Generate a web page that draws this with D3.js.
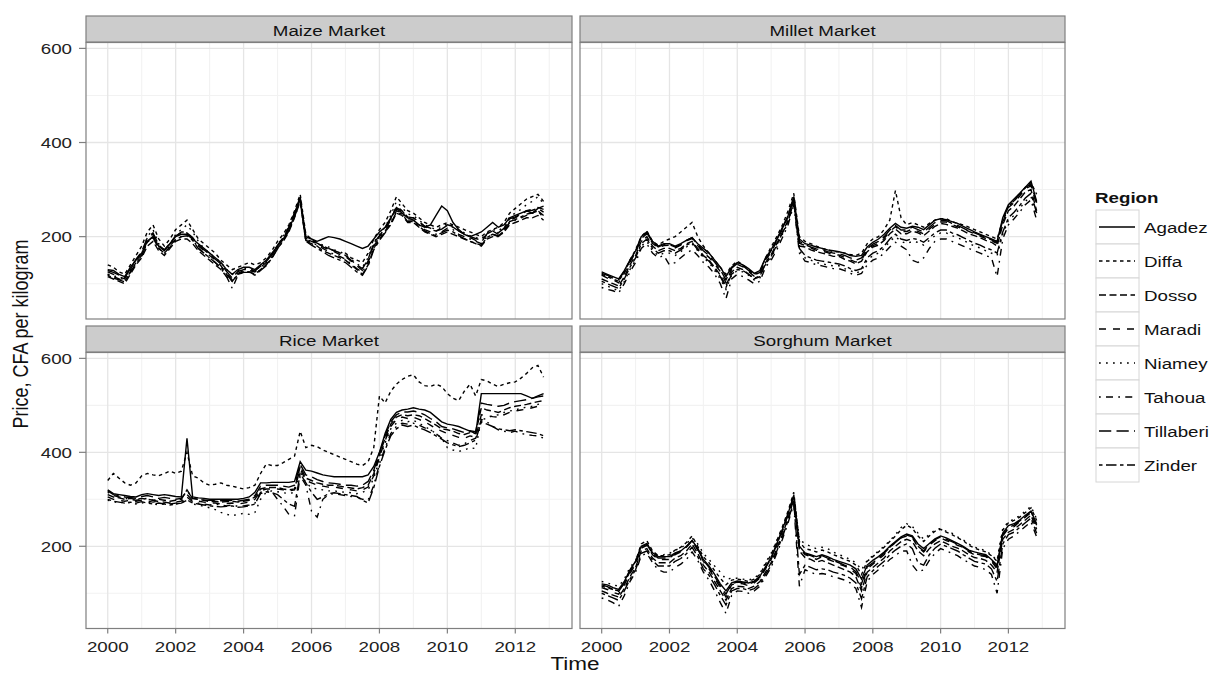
<!DOCTYPE html>
<html>
<head>
<meta charset="utf-8">
<script src="https://cdn.jsdelivr.net/npm/d3@7"></script>
<style>
  body { margin: 0; background: #fff; }
  text { font-family: "Liberation Sans", Arial, sans-serif; }
</style>
</head>
<body>
<svg class="chart" width="1217" height="673"></svg>
<script>
// Precios bimestrales (ene, mar, may, jul, sep, nov) 2000-2012, CFA por kg
var regions = ["Agadez", "Diffa", "Dosso", "Maradi", "Niamey", "Tahoua", "Tillaberi", "Zinder"];
var markets = ["Maize Market", "Millet Market", "Rice Market", "Sorghum Market"];
var startYear = 2000;
var perYear = 6;
var xTicks = [2000, 2002, 2004, 2006, 2008, 2010, 2012];
var yTicks = [200, 400, 600];

var maizePrices = [
  [130,128,120,115,135,150, 165,190,200,180,170,185, 200,205,205,195,185,175, 165,155,145,130,120,130, 135,135,130,140,150,165, 180,195,215,245,280,200, 195,190,195,200,198,195, 190,185,180,175,180,195, 210,220,240,260,250,240, 235,225,220,225,245,265, 255,230,215,205,200,205, 210,220,230,220,225,240, 245,250,255,250,260,265],
  [140,135,125,120,140,160, 180,210,225,195,180,195, 215,225,235,215,195,185, 175,165,150,140,130,135, 140,145,140,145,155,170, 190,205,225,255,290,205, 195,185,180,175,170,165, 165,155,150,145,165,195, 215,230,255,285,270,255, 250,240,230,225,220,225, 230,225,220,215,210,205, 200,210,215,220,230,250, 260,270,280,285,290,275],
  [115,110,105,100,120,140, 155,180,190,170,160,175, 190,195,195,185,170,160, 150,140,130,115,105,120, 125,125,120,130,140,155, 175,190,210,240,275,190, 185,180,170,165,160,155, 150,140,130,120,140,175, 195,210,225,250,245,230, 230,220,210,205,200,205, 210,205,200,195,190,185, 180,195,200,200,210,225, 230,235,240,240,245,235],
  [125,120,115,110,130,150, 165,195,205,180,172,185, 200,210,210,195,180,170, 160,150,138,122,108,122, 128,128,125,135,145,160, 180,198,220,250,285,195, 190,185,178,172,168,162, 158,148,138,128,148,182, 200,215,235,265,255,240, 240,230,222,215,212,218, 225,222,212,205,198,192, 188,205,212,205,215,235, 240,248,255,258,262,258],
  [120,118,112,108,128,148, 162,200,215,185,170,180, 205,215,225,210,190,175, 165,155,145,130,120,128, 132,132,128,138,148,162, 182,200,222,250,282,200, 195,188,182,178,172,168, 162,152,142,135,155,188, 205,220,245,275,262,248, 245,235,225,220,215,220, 228,222,215,208,202,198, 195,208,215,212,222,242, 250,258,268,275,285,270],
  [120,115,110,105,125,145, 160,190,200,175,165,180, 195,200,205,195,175,165, 155,145,132,115,90,118, 125,125,120,130,140,158, 178,195,218,248,278,192, 188,182,175,168,162,158, 152,142,132,125,145,180, 198,212,230,255,250,235, 235,225,215,210,205,210, 218,215,205,200,195,190, 185,200,205,200,210,230, 235,240,245,250,255,245],
  [128,124,118,112,132,152, 168,198,208,182,172,186, 202,208,208,198,182,172, 162,152,142,126,112,126, 130,130,127,137,147,162, 182,198,220,250,283,196, 192,186,180,175,170,166, 160,150,140,132,152,186, 202,218,238,262,254,242, 240,232,222,218,212,216, 224,220,212,206,200,196, 192,206,212,208,218,238, 242,248,254,256,260,252],
  [118,112,108,104,124,144, 158,188,198,175,165,178, 193,200,202,192,175,165, 155,145,135,120,105,120, 124,124,118,128,138,154, 174,192,212,242,276,190, 182,175,168,160,155,150, 145,135,125,118,138,172, 192,208,228,252,248,232, 232,222,212,206,202,208, 214,210,202,196,190,186, 182,198,205,202,212,232, 236,242,248,250,255,240]
];

var milletPrices = [
  [125,120,115,110,128,150, 170,200,210,190,180,185, 185,180,185,192,198,185, 175,165,150,135,115,135, 145,140,132,122,128,155, 172,195,220,245,285,195, 185,182,178,175,172,170, 168,165,160,158,160,178, 188,195,205,218,228,220, 218,222,220,215,225,235, 238,236,232,228,222,216, 210,205,200,195,190,240, 268,280,292,305,318,275],
  [120,115,110,105,125,150, 172,200,212,190,182,190, 195,200,210,220,230,200, 180,165,150,135,120,138, 148,140,130,120,125,155, 178,200,225,255,292,200, 190,185,180,175,172,168, 168,165,162,160,165,185, 195,200,215,235,298,240, 225,230,225,220,228,235, 238,238,232,228,225,220, 215,210,205,200,195,235, 265,275,290,305,315,290],
  [110,105,100,95,115,140, 160,190,200,180,170,175, 175,170,175,185,190,175, 160,150,135,118,95,125, 135,130,120,110,115,145, 162,185,210,235,278,180, 178,172,168,165,162,158, 158,152,148,142,148,168, 178,182,192,206,216,206, 206,212,208,202,212,222, 228,226,222,218,212,206, 202,198,192,188,180,225, 255,265,280,295,300,255],
  [118,112,108,102,122,146, 166,196,206,186,176,181, 182,176,182,191,196,181, 166,156,142,126,102,131, 141,136,126,116,121,151, 166,191,216,242,282,186, 181,176,171,169,166,161, 161,156,151,146,151,171, 181,186,196,211,221,211, 211,216,211,206,216,226, 231,231,226,221,216,211, 206,201,196,191,186,231, 262,272,286,302,308,268],
  [100,95,90,85,105,130, 150,180,190,170,160,165, 165,160,168,178,185,170, 155,145,128,110,88,118, 128,125,118,108,112,140, 155,178,205,230,272,170, 155,150,145,142,140,138, 138,132,128,122,128,150, 160,165,175,190,200,190, 185,190,188,182,192,202, 208,208,202,198,192,186, 180,176,170,165,160,205, 235,245,260,275,285,245],
  [92,88,85,80,100,125, 145,175,185,165,155,160, 140,145,155,165,172,160, 145,135,120,100,68,110, 120,115,108,100,105,135, 150,172,198,225,268,165, 148,145,140,138,135,132, 132,128,122,118,122,140, 150,155,165,178,188,180, 172,150,145,155,175,190, 195,195,190,185,180,175, 170,165,160,155,115,195, 225,238,252,268,278,235],
  [122,118,112,108,126,148, 168,198,208,188,178,183, 183,178,183,192,198,183, 170,160,146,130,108,133, 143,138,128,118,124,153, 170,193,218,243,284,190, 183,178,174,172,168,165, 164,160,155,150,155,174, 184,190,200,214,224,214, 214,220,215,210,220,230, 234,234,228,224,218,212, 208,203,198,193,188,235, 265,276,290,304,312,272],
  [105,100,95,90,110,135, 155,185,195,175,165,170, 170,165,172,182,188,172, 158,148,132,115,92,120, 130,128,120,112,116,142, 158,182,208,232,275,175, 160,155,150,148,146,144, 142,138,132,128,132,155, 165,170,180,195,205,195, 192,196,194,188,198,208, 214,214,208,204,198,192, 186,182,176,172,165,210, 240,252,266,282,292,250]
];

var ricePrices = [
  [320,312,310,308,306,305, 310,312,310,308,310,308, 306,305,430,305,303,302, 300,300,300,300,300,300, 302,305,315,335,335,336, 336,336,336,338,380,362, 360,356,352,350,348,348, 348,348,348,348,352,370, 400,440,470,485,490,492, 495,492,490,485,475,465, 460,458,455,450,445,440, 525,525,525,525,525,525, 525,525,520,515,520,525],
  [340,355,345,335,330,335, 350,355,352,350,355,360, 355,360,400,350,345,335, 330,332,335,330,328,325, 322,325,330,355,375,372, 372,378,385,392,445,410, 415,412,405,400,395,390, 385,380,375,372,380,410, 520,505,530,545,555,562, 565,550,542,540,545,540, 525,515,510,530,545,520, 555,552,545,540,545,548, 550,558,568,580,585,560],
  [310,305,303,300,302,300, 302,300,298,300,298,296, 298,300,320,302,300,298, 295,296,294,295,296,294, 296,298,305,322,325,325, 325,322,320,322,370,345, 340,335,332,330,330,328, 326,324,322,325,330,355, 395,430,460,475,480,478, 480,478,472,465,458,450, 448,445,440,438,442,440, 495,490,488,485,490,495, 498,500,502,505,508,510],
  [305,300,298,296,298,296, 298,296,294,296,294,292, 294,296,310,298,296,294, 292,292,290,291,292,290, 292,294,300,318,322,322, 322,320,318,320,365,340, 335,330,328,326,326,324, 322,320,318,320,326,350, 390,425,455,470,475,472, 475,470,465,458,450,445, 440,436,432,430,435,432, 480,478,476,475,480,485, 488,490,492,495,498,500],
  [298,295,292,295,292,290, 292,295,290,288,290,292, 290,292,300,290,288,285, 282,278,272,268,265,268, 270,268,272,300,315,318, 316,314,312,315,360,335, 325,322,320,318,318,316, 315,314,312,315,320,345, 385,420,450,462,468,465, 468,462,455,448,440,430, 410,405,402,405,410,408, 470,472,478,480,485,488, 490,494,496,498,502,505],
  [315,308,305,302,300,298, 300,302,298,295,292,290, 292,294,305,295,292,290, 288,290,288,286,288,285, 286,288,292,315,318,316, 300,285,268,265,350,330, 275,262,300,310,312,310, 308,306,305,300,298,330, 375,410,440,455,462,460, 462,458,452,448,440,430, 425,420,415,418,425,430, 470,465,455,448,445,442, 445,440,438,436,435,430],
  [318,310,308,305,304,302, 306,308,305,302,304,302, 300,302,318,302,300,298, 298,298,297,297,298,296, 298,300,308,328,330,330, 330,328,326,330,375,352, 348,342,338,335,334,332, 330,330,328,330,338,362, 398,435,465,480,486,486, 488,485,480,472,465,455, 452,450,446,442,446,444, 505,502,500,498,500,505, 508,510,512,515,518,520],
  [300,296,294,292,294,292, 295,292,290,292,290,288, 290,292,298,292,290,288, 286,285,284,285,286,283, 284,286,290,312,316,314, 310,300,290,285,355,335, 315,300,305,312,314,312, 310,308,306,298,292,325, 370,405,435,450,458,455, 458,452,448,442,435,428, 420,416,412,415,420,426, 465,460,455,450,448,446, 448,446,444,442,440,435]
];

var sorghumPrices = [
  [120,118,112,108,125,150, 168,200,206,186,178,178, 178,186,190,200,212,196, 172,158,140,120,105,122, 126,124,122,126,136,156, 176,206,236,270,308,200, 186,182,178,182,178,172, 168,164,160,152,130,160, 170,178,188,200,210,220, 226,222,205,195,206,216, 222,218,212,206,200,192, 188,185,182,172,160,228, 244,248,256,266,275,248],
  [115,112,108,105,122,148, 168,205,212,190,180,180, 182,192,198,208,222,200, 178,165,148,132,118,128, 130,128,125,130,140,162, 182,212,242,275,315,210, 195,192,188,192,188,182, 178,172,168,160,140,168, 178,188,198,210,222,235, 245,238,222,210,222,232, 236,230,225,218,212,202, 196,192,188,180,168,235, 250,255,262,272,282,255],
  [105,100,96,92,110,135, 155,190,195,175,165,165, 165,175,180,190,205,185, 160,145,125,105,85,110, 115,114,110,115,125,145, 165,195,225,260,300,190, 176,172,166,170,165,160, 155,150,145,135,105,145, 155,165,175,190,200,210, 215,210,190,180,195,205, 212,206,200,196,190,182, 176,174,170,160,145,215, 230,236,246,256,266,236],
  [112,108,102,98,118,142, 162,196,202,182,172,172, 172,182,188,198,212,192, 168,152,132,112,92,118, 122,120,116,122,132,152, 172,202,232,268,306,196, 182,178,172,178,172,168, 162,158,152,142,112,152, 162,172,182,198,208,218, 222,218,198,188,202,212, 218,212,208,202,198,188, 182,180,178,168,152,222, 238,242,252,262,272,242],
  [125,122,118,115,130,155, 170,198,205,188,180,182, 185,192,196,205,218,205, 185,172,158,145,130,132, 132,130,128,132,142,165, 185,212,240,272,310,215, 205,200,195,198,195,188, 182,178,172,165,150,170, 180,190,200,212,225,240, 248,242,228,215,225,235, 238,232,228,220,214,205, 198,195,190,182,170,238, 252,258,265,275,285,258],
  [90,86,80,72,95,125, 145,180,185,165,150,145, 145,155,162,172,188,170, 145,128,105,80,57,95, 105,104,100,105,115,135, 155,185,215,250,290,115, 150,145,140,142,140,135, 132,128,122,110,70,125, 140,150,160,172,180,190, 190,160,145,150,170,185, 195,190,185,180,172,165, 158,155,150,140,100,195, 215,222,232,242,252,220],
  [118,114,108,104,122,146, 165,198,204,184,175,175, 175,184,190,199,212,194, 170,155,136,116,98,120, 124,122,119,124,134,154, 174,204,234,268,307,198, 184,180,175,180,175,170, 165,160,156,146,120,156, 165,175,185,198,208,218, 224,220,200,190,204,214, 220,215,210,204,198,190, 185,182,180,170,156,225, 240,245,254,264,274,245],
  [100,95,90,85,105,130, 150,185,190,170,158,158, 158,168,174,184,198,178, 152,138,118,95,75,105, 110,110,106,110,120,140, 160,190,220,255,295,140, 160,155,150,152,150,145, 142,138,132,122,88,135, 148,158,168,182,192,200, 205,195,165,160,182,196, 205,200,195,190,182,175, 168,165,162,152,125,205, 225,230,240,250,260,228]
];

var marketPrices = [maizePrices, milletPrices, ricePrices, sorghumPrices];

// tipos de linea como en ggplot: solid, 22, 42, 44, 13, 1343, 73, 2262
var dashes = ["none", "3.5,3.5", "7,3.5", "7,7", "1.75,5.25", "1.75,5.25,7,5.25", "12.25,5.25", "3.5,3.5,10.5,3.5"];

var SX = 1.25; // la imagen original esta estirada en horizontal
var gris50 = "#7f7f7f";

var svg = d3.select(".chart");

var cols = [[86, 572], [580, 1065]];
var rows = [
  { strip: [16, 42], plot: [42.5, 319] },
  { strip: [326, 352], plot: [352.5, 628.5] }
];

var x = d3.scaleLinear().domain([1999.36, 2013.67]);
var yDomain = [25, 612.5];

function texto(g, str, px, py, size, anchor) {
  return g.append("text")
    .attr("transform", "translate(" + px + "," + py + ") scale(" + SX + ",1)")
    .attr("text-anchor", anchor)
    .style("font-size", size + "px")
    .text(str);
}

markets.forEach(function(market, m) {
  var c = cols[m % 2], r = rows[Math.floor(m / 2)];
  var xs = x.copy().range(c);
  var ys = d3.scaleLinear().domain(yDomain).range([r.plot[1], r.plot[0]]);
  var g = svg.append("g").attr("class", "panel");

  // fondo y rejilla
  g.append("rect")
    .attr("x", c[0]).attr("y", r.plot[0])
    .attr("width", c[1] - c[0]).attr("height", r.plot[1] - r.plot[0])
    .attr("fill", "#fff");

  var minorX = d3.range(2001, 2014, 2);
  var minorY = [100, 300, 500];
  g.selectAll(".minx").data(minorX).enter().append("line")
    .attr("x1", xs).attr("x2", xs)
    .attr("y1", r.plot[0]).attr("y2", r.plot[1])
    .attr("stroke", "#f2f2f2").attr("stroke-width", 1.1);
  g.selectAll(".miny").data(minorY).enter().append("line")
    .attr("x1", c[0]).attr("x2", c[1])
    .attr("y1", ys).attr("y2", ys)
    .attr("stroke", "#f2f2f2").attr("stroke-width", 1.1);
  g.selectAll(".majx").data(xTicks).enter().append("line")
    .attr("x1", xs).attr("x2", xs)
    .attr("y1", r.plot[0]).attr("y2", r.plot[1])
    .attr("stroke", "#e5e5e5").attr("stroke-width", 1.3);
  g.selectAll(".majy").data(yTicks).enter().append("line")
    .attr("x1", c[0]).attr("x2", c[1])
    .attr("y1", ys).attr("y2", ys)
    .attr("stroke", "#e5e5e5").attr("stroke-width", 1.3);

  // series
  var line = d3.line()
    .x(function(d, i) { return xs(startYear + i / perYear); })
    .y(function(d) { return ys(d); });

  g.selectAll(".serie").data(marketPrices[m]).enter().append("path")
    .attr("class", "serie")
    .attr("d", line)
    .attr("fill", "none")
    .attr("stroke", "#000")
    .attr("stroke-width", 1.4)
    .attr("stroke-dasharray", function(d, i) { return dashes[i]; });

  // borde del panel
  g.append("rect")
    .attr("x", c[0]).attr("y", r.plot[0])
    .attr("width", c[1] - c[0]).attr("height", r.plot[1] - r.plot[0])
    .attr("fill", "none").attr("stroke", gris50).attr("stroke-width", 1.2);

  // strip
  g.append("rect")
    .attr("x", c[0]).attr("y", r.strip[0])
    .attr("width", c[1] - c[0]).attr("height", r.strip[1] - r.strip[0])
    .attr("fill", "#cccccc").attr("stroke", gris50).attr("stroke-width", 1.2);
  texto(g, market, (c[0] + c[1]) / 2, r.strip[0] + 20, 15, "middle").attr("fill", "#111");

  // ejes: solo a la izquierda y abajo
  if (m % 2 === 0) {
    g.selectAll(".ty").data(yTicks).enter().append("line")
      .attr("x1", c[0] - 7).attr("x2", c[0])
      .attr("y1", ys).attr("y2", ys)
      .attr("stroke", gris50).attr("stroke-width", 1.2);
    yTicks.forEach(function(t) {
      texto(g, t, c[0] - 14, ys(t) + 5.5, 15, "end").attr("fill", "#222");
    });
  }
  if (m >= 2) {
    g.selectAll(".tx").data(xTicks).enter().append("line")
      .attr("x1", xs).attr("x2", xs)
      .attr("y1", r.plot[1]).attr("y2", r.plot[1] + 5)
      .attr("stroke", gris50).attr("stroke-width", 1.2);
    xTicks.forEach(function(t) {
      texto(g, t, xs(t), r.plot[1] + 23, 15, "middle").attr("fill", "#222");
    });
  }
});

// titulos de ejes
texto(svg, "Time", 575, 670, 18, "middle").attr("fill", "#111");
svg.append("text")
  .attr("transform", "translate(28,334) scale(" + SX + ",1) rotate(-90)")
  .attr("text-anchor", "middle")
  .style("font-size", "18px")
  .attr("fill", "#111")
  .text("Price, CFA per kilogram");

// leyenda
var leg = svg.append("g").attr("class", "leyenda");
texto(leg, "Region", 1095, 203, 15, "start").style("font-weight", "bold").attr("fill", "#111");
var keyTop = 210, keyH = 34;
var items = leg.selectAll(".item").data(regions).enter().append("g")
  .attr("class", "item")
  .attr("transform", function(d, i) { return "translate(1096," + (keyTop + i * keyH) + ")"; });
items.append("rect")
  .attr("width", 43).attr("height", keyH)
  .attr("fill", "#fff").attr("stroke", "#d6d6d6").attr("stroke-width", 1);
items.append("line")
  .attr("x1", 3).attr("x2", 39)
  .attr("y1", keyH / 2).attr("y2", keyH / 2)
  .attr("stroke", "#000").attr("stroke-width", 1.4)
  .attr("stroke-dasharray", function(d, i) { return dashes[i]; });
items.each(function(d) {
  texto(d3.select(this), d, 48, keyH / 2 + 5.5, 15, "start").attr("fill", "#111");
});
</script>
</body>
</html>
